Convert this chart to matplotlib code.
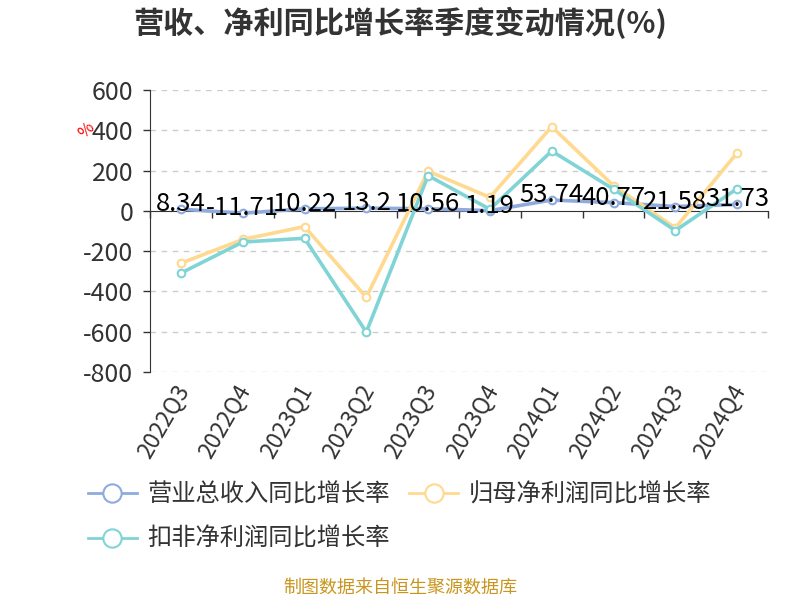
import numpy as np
import matplotlib
matplotlib.use('Agg')
import matplotlib.pyplot as plt
import matplotlib.transforms as mtransforms

plt.rcParams['font.family'] = ['Noto Sans CJK SC', 'DejaVu Sans']
plt.rcParams['axes.unicode_minus'] = False

# Data
quarters = ['2022Q3', '2022Q4', '2023Q1', '2023Q2', '2023Q3',
            '2023Q4', '2024Q1', '2024Q2', '2024Q3', '2024Q4']
revenue = [8.34, -11.71, 10.22, 13.2, 10.56, 1.19, 53.74, 40.77, 21.58, 31.73]
net_profit = [-260, -142, -78, -429, 197, 67, 418, 125, -85, 288]
deducted_profit = [-309, -155, -136, -602, 175, 8, 297, 108, -98, 110]
series_names = ['营业总收入同比增长率', '归母净利润同比增长率', '扣非净利润同比增长率']
colors = ['#8FAADC', '#FFD98F', '#80D4D6']
yticks = [600, 400, 200, 0, -200, -400, -600, -800]

fig = plt.figure(figsize=(8, 6), dpi=100)
ax = fig.add_axes([0.1875, 0.38, 0.7725, 0.47])

x = np.arange(len(quarters))
handles = []
for vals, name, c in zip([revenue, net_profit, deducted_profit], series_names, colors):
    h, = ax.plot(x, vals, color=c, lw=2.6, marker='o', ms=5.5,
                 mfc='white', mec=c, mew=1.5, label=name, zorder=3)
    handles.append(h)

# value labels for revenue series
for xi, v in zip(x, revenue):
    ax.annotate(f'{v:g}', (xi, v), xytext=(0, 5), textcoords='offset pixels',
                ha='center', va='center', fontsize=18.5, color='black', zorder=5)

ax.set_xlim(-0.5, len(quarters) - 0.5)
ax.set_ylim(-800, 600)
ax.set_yticks(yticks)
ax.tick_params(axis='y', labelsize=18, labelcolor='#333333', length=5,
               width=1, color='#333333', pad=7)
for t in yticks:
    if t != 0:
        ax.axhline(t, color='#cccccc', lw=1, ls=(0, (4, 4)), zorder=1)

for s in ['top', 'right']:
    ax.spines[s].set_visible(False)
ax.spines['left'].set_color('#333333')
ax.spines['bottom'].set_position(('data', 0))
ax.spines['bottom'].set_color('#333333')
ax.spines['bottom'].set_zorder(2)
ax.set_xticks(np.arange(-0.5, len(quarters), 1.0))
ax.set_xticklabels([])
ax.tick_params(axis='x', length=5, width=1, color='#333333')

trans = mtransforms.blended_transform_factory(ax.transData, ax.transAxes)
for xi, q in zip(x, quarters):
    ax.text(xi - 0.12, -0.03, q, transform=trans, rotation=60, ha='right', va='top',
            rotation_mode='anchor', fontsize=16.5, color='#333333')

fig.text(0.108, 0.782, '%', color='red', fontsize=12, rotation=45,
         ha='center', va='center')

fig.text(0.5, 0.962, '营收、净利同比增长率季度变动情况(%)', ha='center', va='center',
         fontsize=21.7, fontweight='bold', color='#333333')

order = [0, 2, 1]
leg = fig.legend(handles=[handles[i] for i in order], loc='upper left',
                 bbox_to_anchor=(0.11, 0.197),
                 ncol=2, frameon=False, fontsize=17.5, handlelength=2.0,
                 handletextpad=0.45, columnspacing=0.8, labelspacing=0.75,
                 markerscale=2.4, borderaxespad=0, borderpad=0)
for t in leg.get_texts():
    t.set_color('#333333')
for lh in leg.legend_handles:
    lh.set_linewidth(2)

fig.text(0.5, 0.02, '制图数据来自恒生聚源数据库', ha='center', va='center',
         fontsize=13, color='#C8961E')

fig.savefig('out.png', dpi=100)
